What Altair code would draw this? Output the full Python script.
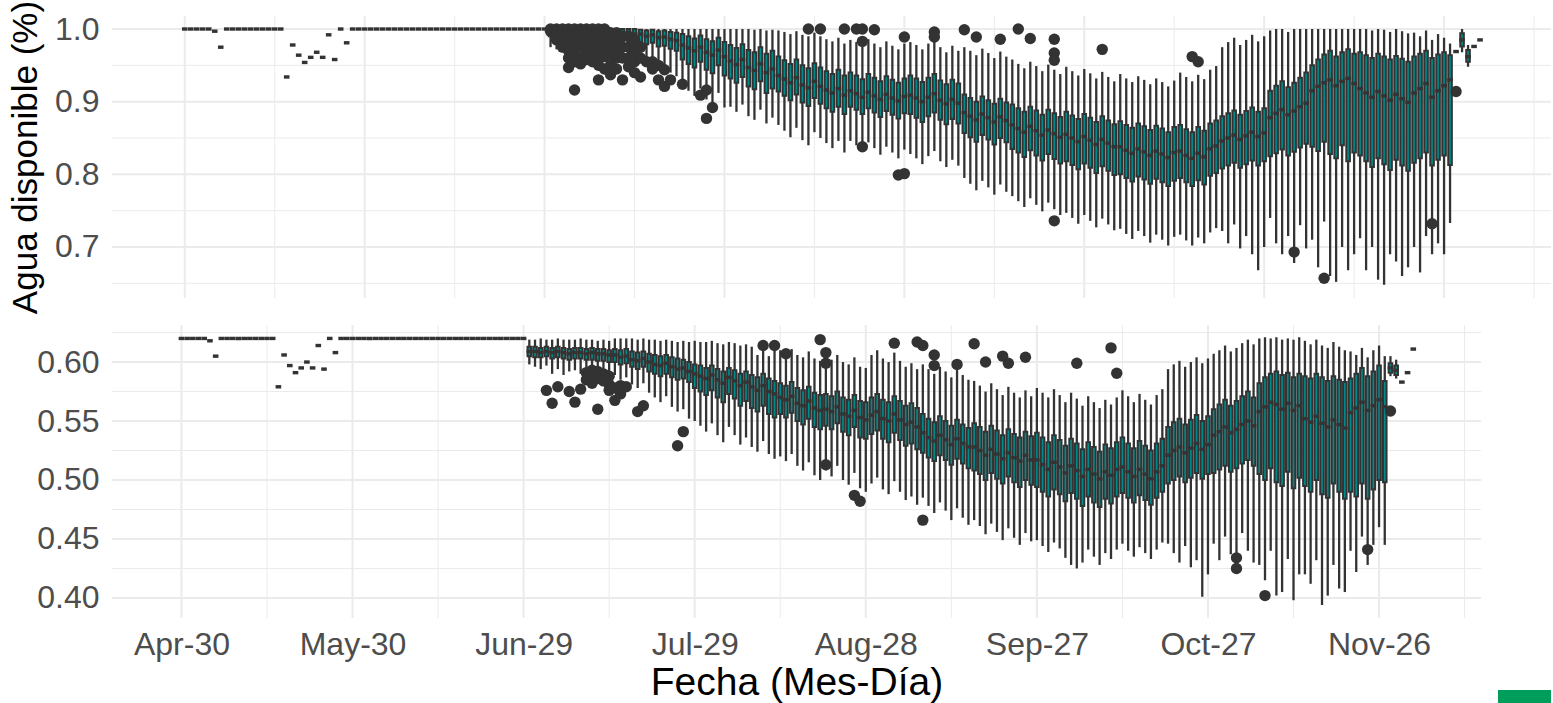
import altair as alt
import pandas as pd

FONT = "Liberation Sans"
BOX_FILL = "#008B8B"
DARK = "#333333"
GRID = "#EBEBEB"
BADGE_GREEN = "#009E5A"

TICK_DAYS = [0, 30, 60, 90, 120, 150, 180, 210]
TICK_LABELS = ["Apr-30", "May-30", "Jun-29", "Jul-29", "Aug-28", "Sep-27", "Oct-27", "Nov-26"]
MINOR_DAYS = [15, 45, 75, 105, 135, 165, 195, 225]
X_DOMAIN = [-11.3, 227.0]

TOP_Y_MAJOR = [0.7, 0.8, 0.9, 1.0]
TOP_Y_MINOR = [0.65, 0.75, 0.85, 0.95]
TOP_Y_DOMAIN = [0.6298, 1.0179]
BOT_Y_MAJOR = [0.40, 0.45, 0.50, 0.55, 0.60]
BOT_Y_MINOR = [0.425, 0.475, 0.525, 0.575, 0.625]
BOT_Y_DOMAIN = [0.383, 0.6314]

# single-value days 0..60 (thousandths)
TOP_EARLY = [1000] * 5 + [997, 975] + [1000] * 10 + [934, 978, 964, 954, 961, 968, 961, 992, 958, 1000, 981] + [1000] * 33
BOT_EARLY = [620] * 5 + [618, 605] + [620] * 10 + [579, 606, 597, 591, 595, 600, 595, 614, 594, 620, 608] + [620] * 33

# box statistics, days 61..211 (thousandths)
TOP_Q3 = [1000] * 15 + [
    999, 998, 999, 997, 998, 996, 995,
    993, 990, 987, 991, 986, 983, 988, 982,
    978, 974, 979, 971, 968, 975, 966, 970,
    962, 957, 952, 958, 950, 946, 953,
    947, 942, 938, 944, 936,
    940, 936, 931, 938, 933, 928, 935, 930, 926, 932,
    936, 932, 927, 933, 938, 929, 924, 930, 925,
    910, 905, 900, 907, 902, 897, 904, 899,
    896, 891, 886, 893, 888, 882, 889, 884, 879,
    886, 881, 876, 883, 878, 872, 880, 874, 869,
    873, 868, 864, 870, 866, 861, 867, 863, 858, 865,
    868, 862, 858, 865, 860, 870, 874,
    880, 884, 888, 882, 887, 892, 886, 891,
    915, 922, 928, 920, 926, 933, 940,
    950, 958, 965, 970, 962, 968, 972, 966,
    968, 964, 960, 966, 962, 958, 963, 959, 955,
    962, 966, 970, 960, 965, 968, 964]
TOP_MED = [
    997, 997, 996, 997, 996, 996, 995, 996, 995, 995, 994, 995, 994, 994, 993,
    993, 990, 992, 988, 989, 986, 984,
    978, 974, 970, 975, 968, 964, 971, 962,
    956, 951, 958, 947, 943, 952, 940, 945,
    936, 931, 926, 933, 923, 919, 928,
    921, 916, 912, 918, 909,
    915, 911, 906, 913, 908, 903, 910, 905, 901, 907,
    909, 905, 900, 906, 911, 902, 897, 903, 898,
    885, 880, 875, 883, 878, 872, 879, 874,
    868, 863, 858, 866, 860, 854, 861, 856, 851,
    855, 850, 845, 852, 847, 841, 848, 843, 838,
    838, 833, 829, 835, 831, 826, 832, 828, 823, 830,
    832, 826, 822, 829, 824, 835, 839,
    846, 850, 854, 848, 853, 858, 852, 857,
    878, 884, 889, 882, 887, 893, 898,
    915, 921, 926, 930, 922, 928, 932, 925,
    918, 912, 906, 914, 908, 902, 910, 904, 899,
    912, 918, 925, 906, 915, 922, 930]
TOP_Q1 = [
    990, 990, 988, 989, 987, 988, 986, 987, 985, 986, 984, 985, 983, 984, 982,
    982, 979, 981, 976, 977, 973, 970,
    958, 952, 947, 955, 944, 939, 950, 936,
    932, 926, 934, 921, 917, 928, 912, 918,
    914, 908, 902, 910, 899, 894, 905,
    897, 891, 886, 893, 883,
    893, 889, 883, 891, 885, 879, 887, 882, 877, 884,
    883, 878, 872, 880, 885, 875, 869, 876, 870,
    857, 851, 845, 854, 848, 841, 850, 844,
    835, 830, 824, 833, 826, 819, 828, 821, 815,
    818, 813, 807, 815, 809, 802, 811, 805, 799,
    800, 795, 790, 797, 793, 787, 794, 789, 784, 791,
    795, 789, 784, 792, 786, 798, 802,
    808, 812, 816, 809, 814, 819, 812, 818,
    825, 829, 834, 826, 831, 837, 842,
    838, 832, 845, 828, 822, 840, 818, 830,
    826, 818, 810, 822, 814, 806, 820, 812, 805,
    816, 822, 830, 812, 820, 826, 813]
TOP_LO = [
    975, 972, 968, 972, 965, 970, 962, 968, 963, 965, 960, 963, 958, 962, 955,
    955, 950, 958, 945, 948, 940, 935,
    922, 915, 908, 918, 903, 897, 912, 892,
    893, 886, 896, 880, 875, 889, 870, 878,
    868, 860, 851, 864, 847, 840, 858,
    850, 843, 836, 846, 830,
    846, 840, 832, 844, 836, 827, 838, 830, 822, 834,
    828, 822, 814, 825, 832, 818, 810, 820, 812,
    795, 787, 778, 791, 782, 772, 786, 776,
    770, 763, 755, 767, 758, 749, 761, 752, 744,
    747, 740, 732, 744, 736, 727, 739, 731, 723,
    725, 718, 711, 722, 715, 706, 717, 710, 702, 714,
    717, 709, 702, 713, 705, 720, 726,
    722, 705, 731, 698, 715, 690, 668, 700,
    740, 705, 690, 715, 678, 730, 698,
    710, 672, 735, 660, 652, 700, 668, 690,
    712, 668, 700, 655, 648, 690, 680, 660, 672,
    700, 665, 715, 690, 705, 690, 733]
TOP_HI = [1000] * 15 + [1000] * 7 + [1000] * 8 + [
    1000, 1000, 1000, 1000, 999, 1000, 998, 999,
    998, 996, 993, 997, 992, 990, 995,
    990, 986, 983, 988, 980,
    985, 982, 978, 986, 980, 975, 983, 977, 972, 980,
    982, 978, 972, 980, 985, 975, 968, 977, 970,
    975, 970, 964, 973, 967, 960, 969, 962,
    958, 952, 946, 955, 949, 942, 951, 944, 938,
    948, 942, 936, 945, 939, 932, 941, 934, 928,
    938, 932, 927, 935, 930, 924, 932, 927, 921, 929,
    940, 934, 928, 937, 931, 944, 949,
    975, 982, 988, 978, 985, 992, 983, 990,
    998, 1000, 1000, 996, 1000, 1000, 1000,
    1000, 1000, 1000, 1000, 1000, 1000, 1000, 1000,
    1000, 1000, 998, 1000, 999, 996, 1000, 997, 994,
    995, 990, 998, 985, 993, 988, 980]

BOT_Q3 = [
    613, 613, 612, 613, 612, 613, 612, 611, 612, 612, 611, 612, 611, 611, 610,
    611, 610, 611, 609, 608, 609, 607, 606, 605, 606, 604, 603, 602, 600,
    598, 597, 595, 597, 594, 592, 595, 593, 590, 592, 589, 587, 590, 586, 584,
    582, 580, 583, 578, 576, 579, 574, 572,
    573, 571, 575, 570, 568, 572, 567, 566,
    570, 573, 568, 566, 571, 567, 563, 565, 561,
    556, 552, 549, 554, 550, 546, 551, 547, 544,
    548, 545, 541, 546, 542, 538, 543, 539, 536, 541, 537,
    540, 536, 532, 538, 534, 529, 535, 531, 526, 532, 528, 524, 530, 527, 532,
    536, 531, 527, 533, 529, 525, 531, 535,
    545, 549, 552, 547, 551, 555, 550, 554,
    560, 564, 568, 563, 567, 571, 575, 570,
    582, 587, 590, 592, 589, 591, 587, 590,
    588, 586, 590, 587, 584, 588, 585, 583,
    586, 590, 595, 588, 592, 597, 584]
BOT_MED = [
    609, 609, 608, 609, 608, 609, 608, 607, 608, 608, 607, 608, 607, 607, 606,
    606, 604, 605, 602, 601, 603, 600, 598, 597, 599, 596, 594, 595, 592,
    590, 588, 586, 589, 585, 582, 587, 584, 580, 583, 579, 576, 580, 575, 573,
    570, 568, 571, 565, 563, 567, 561, 559,
    560, 558, 562, 556, 554, 559, 553, 551,
    555, 558, 552, 550, 556, 551, 547, 549, 545,
    540, 536, 533, 538, 534, 530, 535, 531, 528,
    528, 525, 521, 526, 522, 518, 523, 519, 516, 521, 517,
    517, 513, 509, 515, 511, 506, 512, 508, 503, 509, 505, 501, 507, 504, 509,
    511, 507, 503, 509, 505, 501, 507, 512,
    521, 525, 528, 523, 527, 531, 526, 530,
    538, 541, 545, 540, 543, 547, 550, 546,
    558, 562, 566, 564, 560, 565, 559, 563,
    552, 549, 554, 548, 545, 551, 547, 544,
    557, 561, 566, 559, 563, 568, 562]
BOT_Q1 = [
    605, 604, 604, 605, 603, 604, 603, 602, 603, 603, 602, 602, 601, 601, 600,
    600, 598, 599, 596, 594, 596, 592, 590, 588, 590, 587, 585, 586, 583,
    578, 575, 572, 576, 570, 566, 573, 569, 563, 567, 561, 558, 563, 556, 553,
    556, 553, 557, 550, 547, 552, 545, 543,
    546, 543, 548, 541, 538, 545, 536, 535,
    539, 542, 535, 532, 540, 534, 529, 531, 526,
    523, 519, 516, 521, 517, 513, 518, 514, 510,
    508, 505, 500, 506, 501, 497, 503, 498, 494, 500, 496,
    494, 490, 486, 492, 488, 482, 489, 484, 478, 486, 481, 477, 484, 480, 486,
    489, 485, 481, 487, 483, 479, 485, 490,
    497, 500, 503, 498, 502, 506, 501, 505,
    506, 509, 512, 507, 510, 514, 517, 512,
    505, 500, 510, 498, 495, 507, 493, 502,
    495, 490, 500, 488, 485, 497, 490, 484,
    490, 486, 497, 484, 492, 500, 498]
BOT_LO = [
    598, 596, 594, 597, 590, 594, 589, 592, 593, 590, 594, 592, 590, 591, 588,
    589, 585, 587, 581, 578, 582, 574, 570, 566, 571, 562, 558, 560, 552,
    550, 546, 541, 548, 538, 532, 545, 538, 530, 536, 528, 524, 533, 522, 518,
    520, 516, 522, 512, 508, 515, 504, 500,
    508, 503, 512, 500, 496, 506, 493, 490,
    497, 502, 492, 488, 499, 490, 483, 486, 479,
    485, 478, 472, 481, 474, 466, 476, 468, 462,
    466, 461, 454, 463, 456, 449, 459, 451, 445, 455, 448,
    449, 444, 439, 447, 442, 434, 428, 425, 430, 441, 435, 428, 438, 433, 441,
    446, 440, 435, 443, 438, 433, 441, 447,
    446, 438, 430, 444, 426, 432, 401, 420,
    446, 432, 452, 437, 425, 455, 440, 430,
    428, 415, 440, 402, 405, 433, 398, 420,
    420, 412, 432, 394, 402, 428, 408, 405,
    440, 422, 452, 428, 445, 460, 445]
BOT_HI = [
    619, 619, 620, 619, 619, 620, 619, 619, 619, 620, 619, 619, 618, 619, 618,
    620, 620, 620, 620, 619, 620, 619, 619, 618, 619, 618, 617, 618, 617,
    618, 617, 617, 618, 616, 615, 617, 616, 614, 615, 613, 606, 614, 605, 611,
    610, 608, 611, 606, 604, 609, 603, 601,
    604, 602, 606, 600, 598, 604, 596, 595,
    606, 610, 603, 600, 608, 601, 596, 599, 594,
    598, 594, 590, 596, 592, 587, 594, 589, 585,
    584, 580, 575, 582, 577, 572, 579, 574, 570, 576, 571,
    578, 574, 570, 577, 572, 566, 574, 569, 563, 571, 566, 561, 568, 564, 570,
    576, 571, 566, 573, 568, 564, 572, 577,
    594, 598, 601, 596, 600, 604, 599, 603,
    607, 610, 614, 609, 612, 616, 619, 615,
    620, 621, 620, 621, 619, 620, 619, 621,
    618, 615, 619, 614, 612, 617, 613, 610,
    609, 606, 612, 604, 610, 614, 605]

# last days 212..216: (lo, q1, med, q3, hi)
TOP_LATE = [(969, 969, 969, 969, 969), (968, 976, 985, 994, 1000), (948, 955, 962, 971, 978),
            (976, 976, 976, 976, 976), (985, 985, 985, 985, 985)]
BOT_LATE = [(588, 591, 595, 599, 605), (586, 589, 593, 597, 602), (583, 583, 583, 583, 583),
            (591, 591, 591, 591, 591), (611, 611, 611, 611, 611)]

TOP_OUTLIERS = [
    (61, 1.0), (61, 0.997), (62, 1.0), (62, 0.99), (62, 0.985), (63, 1.0), (63, 0.99), (63, 0.975),
    (64, 1.0), (64, 0.985), (64, 0.97), (64, 0.96), (64, 0.947),
    (65, 1.0), (65, 0.99), (65, 0.98), (65, 0.965), (65, 0.955), (65, 0.916),
    (66, 1.0), (66, 0.99), (66, 0.975), (66, 0.96), (66, 0.952),
    (67, 1.0), (67, 0.985), (67, 0.97), (67, 0.958),
    (68, 1.0), (68, 0.99), (68, 0.975), (68, 0.965), (68, 0.955),
    (69, 1.0), (69, 0.985), (69, 0.97), (69, 0.96), (69, 0.95), (69, 0.93),
    (70, 1.0), (70, 0.99), (70, 0.975), (70, 0.962), (70, 0.945),
    (71, 0.995), (71, 0.98), (71, 0.965), (71, 0.95), (71, 0.937),
    (72, 0.995), (72, 0.985), (72, 0.97), (72, 0.96), (72, 0.945),
    (73, 0.99), (73, 0.975), (73, 0.96), (73, 0.93),
    (74, 0.99), (74, 0.975), (74, 0.96), (74, 0.948),
    (75, 0.985), (75, 0.97), (75, 0.955), (75, 0.94),
    (76, 0.975), (76, 0.96), (76, 0.934), (77, 0.955), (78, 0.955), (78, 0.945),
    (79, 0.93), (79, 0.95), (80, 0.944), (80, 0.921), (81, 0.93), (83, 0.924),
    (86, 0.909), (87, 0.916), (87, 0.877), (88, 0.892),
    (104, 1.0), (106, 1.0), (110, 1.0), (112, 1.0), (113, 1.0), (115, 0.999), (113, 0.983),
    (113, 0.838), (119, 0.799), (120, 0.801), (120, 0.989), (125, 0.996), (125, 0.989),
    (130, 0.999), (132, 0.989), (136, 0.986), (139, 1.0), (141, 0.987), (145, 0.986),
    (145, 0.967), (145, 0.957), (145, 0.736), (153, 0.972), (168, 0.962), (169, 0.955),
    (185, 0.693), (190, 0.657), (208, 0.732), (212, 0.914)]

BOT_OUTLIERS = [
    (64, 0.576), (65, 0.565), (66, 0.579), (68, 0.575), (69, 0.566), (70, 0.577),
    (71, 0.591), (71, 0.585), (72, 0.593), (72, 0.588), (72, 0.582), (73, 0.592),
    (73, 0.586), (73, 0.560), (74, 0.590), (74, 0.584), (75, 0.588), (75, 0.581),
    (75, 0.576), (76, 0.578), (76, 0.5675), (77, 0.573), (77, 0.580), (78, 0.579),
    (80, 0.558), (81, 0.563), (87, 0.529), (88, 0.541),
    (102, 0.614), (104, 0.614), (106, 0.607), (112, 0.619), (113, 0.608), (113, 0.599),
    (113, 0.513), (118, 0.487), (119, 0.482), (125, 0.616), (129, 0.617), (130, 0.614),
    (130, 0.466), (132, 0.606), (132, 0.597), (136, 0.598), (139, 0.6155), (141, 0.600),
    (144, 0.605), (145, 0.599), (148, 0.604), (157, 0.599), (163, 0.612), (164, 0.5905),
    (185, 0.434), (185, 0.425), (190, 0.402), (208, 0.441), (212, 0.5585)]

for name, arr in [("TOP_Q3", TOP_Q3), ("TOP_MED", TOP_MED), ("TOP_Q1", TOP_Q1), ("TOP_LO", TOP_LO),
                  ("TOP_HI", TOP_HI), ("BOT_Q3", BOT_Q3), ("BOT_MED", BOT_MED), ("BOT_Q1", BOT_Q1),
                  ("BOT_LO", BOT_LO), ("BOT_HI", BOT_HI)]:
    assert len(arr) == 151, (name, len(arr))
assert len(TOP_EARLY) == 61 and len(BOT_EARLY) == 61


def build_table(early, lo, q1, med, q3, hi, late):
    rows = []
    for d, v in enumerate(early):
        rows.append({"day": d, "lo": v / 1000, "q1": v / 1000, "med": v / 1000, "q3": v / 1000, "hi": v / 1000})
    for i in range(len(lo)):
        rows.append({"day": 61 + i, "lo": lo[i] / 1000, "q1": q1[i] / 1000, "med": med[i] / 1000,
                     "q3": q3[i] / 1000, "hi": hi[i] / 1000})
    for j, (a, b, c, e, f) in enumerate(late):
        rows.append({"day": 212 + j, "lo": a / 1000, "q1": b / 1000, "med": c / 1000, "q3": e / 1000, "hi": f / 1000})
    return pd.DataFrame(rows)


LABEL_EXPR = "[" + ",".join("'%s'" % s for s in TICK_LABELS) + "][round(datum.value / 30)]"


def panel(table, outliers, ydom, ymajor, yminor, yfmt, width, height, bottom):
    xs = alt.Scale(domain=X_DOMAIN, nice=False, zero=False)
    ys = alt.Scale(domain=ydom, nice=False, zero=False)
    if bottom:
        xaxis = alt.Axis(values=TICK_DAYS, labelExpr=LABEL_EXPR, grid=False, ticks=False, domain=False,
                         labelFontSize=32, labelColor="#4D4D4D", labelPadding=11, labelFont=FONT,
                         labelFlush=False, labelOverlap=False,
                         title="Fecha (Mes-Día)", titleFontSize=39, titleColor="#000000",
                         titleFontWeight="normal", titlePadding=3, titleFont=FONT)
        yaxis = alt.Axis(values=ymajor, format=yfmt, grid=False, ticks=False, domain=False,
                         labelFontSize=32, labelColor="#4D4D4D", labelPadding=13, labelFont=FONT,
                         labelFlush=False, labelOverlap=False, title="")
    else:
        xaxis = None
        yaxis = alt.Axis(values=ymajor, format=yfmt, grid=False, ticks=False, domain=False,
                         labelFontSize=32, labelColor="#4D4D4D", labelPadding=13, labelFont=FONT,
                         labelFlush=False, labelOverlap=False,
                         title="Agua disponible (%)", titleFontSize=35, titleColor="#000000",
                         titleFontWeight="normal", titlePadding=11, titleFont=FONT)

    def X(field):
        return alt.X(field, scale=xs, axis=xaxis)

    def Y(field):
        return alt.Y(field, scale=ys, axis=yaxis)

    vminor = alt.Chart(pd.DataFrame({"day": MINOR_DAYS})).mark_rule(color=GRID, strokeWidth=1).encode(
        x=X("day:Q"))
    hminor = alt.Chart(pd.DataFrame({"val": yminor})).mark_rule(color=GRID, strokeWidth=1).encode(
        y=Y("val:Q"))
    vmajor = alt.Chart(pd.DataFrame({"day": TICK_DAYS})).mark_rule(color=GRID, strokeWidth=2).encode(
        x=X("day:Q"))
    hmajor = alt.Chart(pd.DataFrame({"val": ymajor})).mark_rule(color=GRID, strokeWidth=2).encode(
        y=Y("val:Q"))

    base = alt.Chart(table)
    whisk = base.mark_rule(color=DARK, strokeWidth=2.3).encode(
        x=X("day:Q"), y=Y("lo:Q"), y2="hi:Q")
    box = base.mark_bar(size=3.6, fill=BOX_FILL, stroke=DARK, strokeWidth=2.0).encode(
        x=X("day:Q"), y=Y("q1:Q"), y2="q3:Q")
    med = base.mark_tick(orient="horizontal", color=DARK, size=5.6, thickness=3.4, opacity=1).encode(
        x=X("day:Q"), y=Y("med:Q"))
    odf = pd.DataFrame(outliers, columns=["day", "val"])
    outs = alt.Chart(odf).mark_circle(size=130, color=DARK, opacity=1).encode(
        x=X("day:Q"), y=Y("val:Q"))

    layers = [vminor, hminor, vmajor, hmajor, whisk, box, med, outs]
    if bottom:
        badge = alt.Chart(pd.DataFrame({"k": [0]})).mark_rect(color=BADGE_GREEN).encode(
            x=alt.value(1386), x2=alt.value(1439), y=alt.value(365), y2=alt.value(378))
        layers.append(badge)
    return alt.layer(*layers).properties(width=width, height=height)


top_table = build_table(TOP_EARLY, TOP_LO, TOP_Q1, TOP_MED, TOP_Q3, TOP_HI, TOP_LATE)
bot_table = build_table(BOT_EARLY, BOT_LO, BOT_Q1, BOT_MED, BOT_Q3, BOT_HI, BOT_LATE)

top = panel(top_table, TOP_OUTLIERS, TOP_Y_DOMAIN, TOP_Y_MAJOR, TOP_Y_MINOR, ".1f", 1439, 282, False)
bottom = panel(bot_table, BOT_OUTLIERS, BOT_Y_DOMAIN, BOT_Y_MAJOR, BOT_Y_MINOR, ".2f", 1369, 293, True)

chart = alt.vconcat(top, bottom, spacing=27, bounds="flush").properties(
    padding={"left": 8, "top": 0, "right": 0, "bottom": 0},
    background="white",
).configure(font=FONT).configure_view(strokeWidth=0)

chart.save("out.html", embed_options={"renderer": "svg", "actions": False})
